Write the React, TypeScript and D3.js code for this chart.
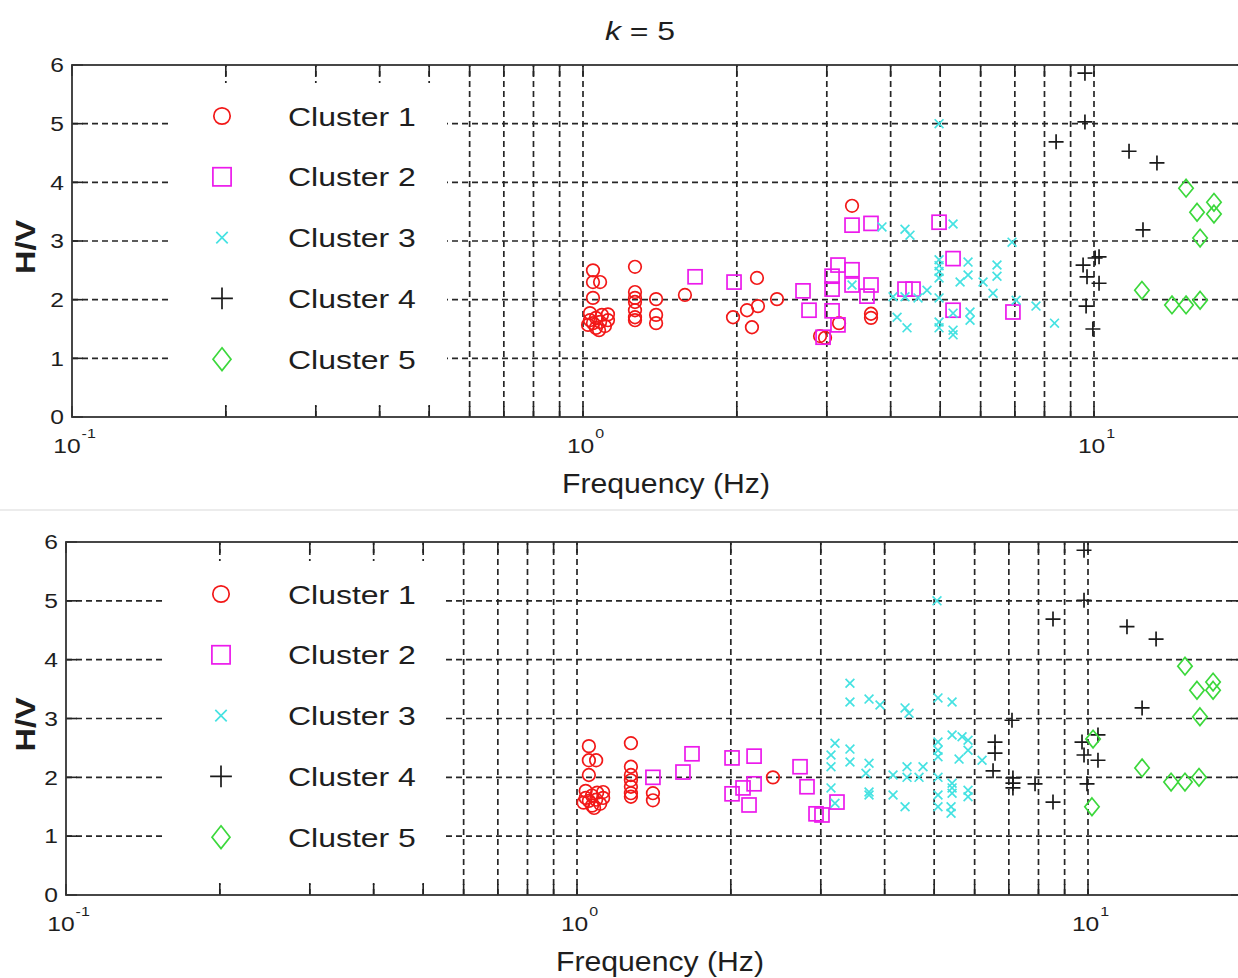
import React from 'react';
import * as d3 from 'd3';

type Pt = [number, number];

// legend + styling per cluster
const clusterNames = ['Cluster 1', 'Cluster 2', 'Cluster 3', 'Cluster 4', 'Cluster 5'];
const clusterColors = ['#f21818', '#ec1aec', '#45e2e2', '#1a1a1a', '#3cd83c'];
const clusterShapes = ['circle', 'square', 'x', 'plus', 'diamond'];

const yTicks = [0, 1, 2, 3, 4, 5, 6];
const xMajor = [0.1, 1, 10];
const xMajorExp = ['-1', '0', '1'];
const xMinor = [0.2, 0.3, 0.4, 0.5, 0.6, 0.7, 0.8, 0.9, 2, 3, 4, 5, 6, 7, 8, 9, 20];

// top panel (frequency Hz, H/V)
const topCluster1: Pt[] = [
  [1.046, 2.5], [1.046, 2.3], [1.08, 2.3], [1.046, 2.03],
  [1.032, 1.77], [1.06, 1.69], [1.089, 1.74], [1.119, 1.65], [1.023, 1.57], [1.06, 1.52],
  [1.104, 1.55], [1.046, 1.6], [1.08, 1.62], [1.119, 1.75], [1.032, 1.65], [1.075, 1.48],
  [1.264, 2.56], [1.264, 2.13], [1.264, 2.03], [1.264, 1.96], [1.264, 1.82], [1.264, 1.7], [1.264, 1.65],
  [1.39, 2.01], [1.39, 1.74], [1.39, 1.6],
  [1.583, 2.08],
  [1.966, 1.7], [2.094, 1.82], [2.141, 1.53], [2.19, 2.37], [2.2, 1.89], [2.397, 2.01],
  [2.91, 1.38], [2.976, 1.35], [3.17, 1.6], [3.361, 3.6], [3.661, 1.76], [3.661, 1.69],
];
const topCluster2: Pt[] = [
  [1.657, 2.39], [1.975, 2.3], [2.695, 2.15], [2.769, 1.82], [2.95, 1.36],
  [3.072, 2.4], [3.072, 2.18], [3.072, 1.81], [3.155, 2.59], [3.155, 1.57],
  [3.361, 3.27], [3.361, 2.51], [3.361, 2.25], [3.661, 3.3], [3.661, 2.25], [3.595, 2.06],
  [4.267, 2.18], [4.424, 2.18], [4.975, 3.32], [5.299, 2.7], [5.299, 1.82], [6.94, 1.79],
];
const topCluster3: Pt[] = [
  [3.361, 2.25], [3.847, 3.24], [4.267, 3.2], [4.364, 3.1], [5.299, 3.29], [4.975, 5.0],
  [4.043, 2.05], [4.267, 2.05], [4.525, 2.03], [4.712, 2.16], [4.117, 1.7], [4.306, 1.52],
  [4.975, 2.68], [4.975, 2.58], [4.975, 2.48], [4.975, 2.37], [4.975, 2.03], [4.975, 1.52], [4.975, 1.62],
  [5.299, 1.77], [5.299, 1.48], [5.299, 1.4],
  [5.469, 2.3], [5.669, 2.64], [5.669, 2.42], [5.72, 1.79], [5.72, 1.65],
  [6.065, 2.3], [6.344, 2.11], [6.459, 2.59], [6.459, 2.4], [6.912, 2.98], [7.04, 1.99], [7.7, 1.89], [8.37, 1.6],
];
const topCluster4: Pt[] = [
  [9.6, 5.86], [9.6, 5.03], [8.43, 4.69], [11.71, 4.53], [13.28, 4.33], [12.47, 3.19],
  [10.05, 2.71], [10.23, 2.73], [9.52, 2.59], [9.69, 2.39], [10.23, 2.28], [9.65, 1.89], [9.95, 1.5],
];
const topCluster5: Pt[] = [
  [12.41, 2.16], [14.21, 1.91], [15.14, 1.91], [16.13, 1.99], [15.14, 3.9],
  [15.91, 3.49], [17.17, 3.66], [17.17, 3.46], [16.13, 3.05],
];

// bottom panel
const bottomCluster1: Pt[] = [
  [1.055, 2.53], [1.055, 2.29], [1.09, 2.29], [1.055, 2.04],
  [1.04, 1.77], [1.07, 1.69], [1.095, 1.74], [1.125, 1.65], [1.03, 1.57], [1.07, 1.52],
  [1.11, 1.55], [1.055, 1.6], [1.09, 1.62], [1.125, 1.75], [1.04, 1.65], [1.08, 1.48],
  [1.275, 2.58], [1.275, 2.18], [1.275, 2.04], [1.275, 1.95], [1.275, 1.84], [1.275, 1.73], [1.275, 1.67],
  [1.408, 1.73], [1.408, 1.61],
  [2.418, 2.0],
];
const bottomCluster2: Pt[] = [
  [1.408, 2.0], [1.612, 2.09], [1.679, 2.4], [2.011, 2.33], [2.011, 1.72], [2.113, 1.82],
  [2.171, 1.53], [2.221, 2.36], [2.221, 1.89], [2.732, 2.18], [2.819, 1.84], [2.936, 1.38],
  [3.016, 1.36], [3.227, 1.58],
];
const bottomCluster3: Pt[] = [
  [3.141, 2.38], [3.141, 2.18], [3.141, 1.82], [3.198, 2.58], [3.198, 1.56],
  [3.421, 3.6], [3.421, 3.28], [3.421, 2.48], [3.421, 2.26],
  [3.728, 3.33], [3.728, 2.24], [3.677, 2.07], [3.728, 1.75], [3.728, 1.7],
  [3.917, 3.23], [4.385, 3.18], [4.464, 3.09],
  [4.154, 2.04], [4.154, 1.7], [4.424, 2.18], [4.424, 2.0], [4.385, 1.5], [4.755, 2.18], [4.67, 2.0],
  [5.064, 5.0], [5.087, 3.35], [5.42, 3.28],
  [5.087, 2.6], [5.087, 2.46], [5.087, 2.35], [5.087, 2.0], [5.087, 1.7], [5.087, 1.5],
  [5.42, 2.72], [5.42, 1.9], [5.42, 1.82], [5.42, 1.73], [5.395, 1.5], [5.395, 1.39],
  [5.669, 2.69], [5.824, 2.63], [5.824, 2.46], [5.593, 2.31], [5.824, 1.78], [5.824, 1.67],
  [6.204, 2.29],
];
const bottomCluster4: Pt[] = [
  [9.822, 5.86], [9.822, 5.01], [8.541, 4.69], [11.92, 4.56], [13.59, 4.35], [12.76, 3.18],
  [7.1, 2.97], [6.577, 2.6], [6.577, 2.41], [6.519, 2.11], [7.13, 1.99], [7.13, 1.9], [7.13, 1.82],
  [7.877, 1.89], [8.541, 1.58], [9.734, 2.6], [9.822, 2.38], [10.46, 2.72], [10.46, 2.29], [9.956, 1.89],
];
const bottomCluster5: Pt[] = [
  [10.23, 2.65], [10.18, 1.5], [12.76, 2.16], [14.54, 1.92], [15.48, 1.92], [16.49, 2.0],
  [15.48, 3.89], [16.34, 3.48], [17.57, 3.62], [17.57, 3.48], [16.56, 3.03],
];

const FONT = '"Liberation Sans", Arial, Helvetica, sans-serif';
const SX = 1.23; // the figure is stretched horizontally

function Txt({ x, y, size, anchor = 'start', sx = SX, rotate = 0, len, weight, children }: any) {
  const t = `translate(${x},${y}) scale(${sx},1)${rotate ? ` rotate(${rotate})` : ''}`;
  return (
    <text
      transform={t}
      fontSize={size}
      textAnchor={anchor}
      fontFamily={FONT}
      fontWeight={weight}
      fill="#1e1e1e"
      textLength={len}
      lengthAdjust={len ? 'spacingAndGlyphs' : undefined}
    >
      {children}
    </text>
  );
}

function Marker({ shape, x, y, color, big = false }: any) {
  const k = big ? 1.3 : 1;
  const common = { fill: 'none', stroke: color, strokeWidth: 1.7 };
  if (shape === 'circle') return <circle cx={x} cy={y} r={6.3 * k} {...common} />;
  if (shape === 'square') {
    const h = 7 * k;
    return <rect x={x - h} y={y - h} width={2 * h} height={2 * h} {...common} />;
  }
  if (shape === 'x') {
    const h = 4.4 * k;
    return <path d={`M${x - h},${y - h}L${x + h},${y + h}M${x - h},${y + h}L${x + h},${y - h}`} {...common} />;
  }
  if (shape === 'plus') {
    const h = 7.5 * (big ? 1.45 : 1);
    return <path d={`M${x - h},${y}L${x + h},${y}M${x},${y - h}L${x},${y + h}`} {...common} />;
  }
  const w = 7.2 * (big ? 1.25 : 1);
  const hh = 8.8 * (big ? 1.3 : 1);
  return <path d={`M${x},${y - hh}L${x + w},${y}L${x},${y + hh}L${x - w},${y}Z`} {...common} />;
}

interface PanelProps {
  left: number;
  top: number;
  bottom: number;
  clusters: Pt[][];
  legend: { boxX: number; boxW: number; boxTop: number; boxBottom: number; markerX: number; textX: number; rowY: number; rowStep: number };
  labelX: number;
  labelY: number;
}

function Panel({ left, top, bottom, clusters, legend, labelX, labelY }: PanelProps) {
  const decade = 511;
  const x = d3.scaleLog().domain([0.1, 20]).range([left, left + decade * Math.log10(200)]);
  const y = d3.scaleLinear().domain([0, 6]).range([bottom, top]);
  const [x0, x1] = x.range();
  const gridX = [...xMinor, ...xMajor].filter((v) => v > 0.1 && v < 20);
  const dash = '6,4';
  const tick = 11;
  const gridStyle = { stroke: '#262626', strokeWidth: 1.7, strokeDasharray: dash };

  return (
    <g>
      {/* grid */}
      {yTicks.filter((v) => v > 0 && v < 6).map((v) => (
        <line key={`gy${v}`} x1={x0} x2={x1} y1={y(v)} y2={y(v)} {...gridStyle} />
      ))}
      {gridX.map((v) => (
        <line key={`gx${v}`} x1={x(v)} x2={x(v)} y1={bottom} y2={top} {...gridStyle} />
      ))}

      {/* legend box hides the grid */}
      <rect x={legend.boxX} y={legend.boxTop} width={legend.boxW} height={legend.boxBottom - legend.boxTop} fill="#fff" />

      {/* ticks */}
      {[...xMinor, ...xMajor].map((v) => (
        <g key={`tx${v}`}>
          <line x1={x(v)} x2={x(v)} y1={bottom} y2={bottom - tick} stroke="#222" strokeWidth={1.6} />
          <line x1={x(v)} x2={x(v)} y1={top} y2={top + tick} stroke="#222" strokeWidth={1.6} />
        </g>
      ))}
      {yTicks.map((v) => (
        <g key={`ty${v}`}>
          <line x1={x0} x2={x0 + tick} y1={y(v)} y2={y(v)} stroke="#222" strokeWidth={1.6} />
          <line x1={x1} x2={x1 - tick} y1={y(v)} y2={y(v)} stroke="#222" strokeWidth={1.6} />
        </g>
      ))}

      {/* axes box */}
      <rect x={x0} y={top} width={x1 - x0} height={bottom - top} fill="none" stroke="#333" strokeWidth={1.8} />

      {/* data */}
      {clusters.map((pts, ci) =>
        pts.map((p, i) => (
          <Marker key={`m${ci}-${i}`} shape={clusterShapes[ci]} color={clusterColors[ci]} x={x(p[0])} y={y(p[1])} />
        ))
      )}

      {/* y tick labels */}
      {yTicks.map((v) => (
        <Txt key={`ly${v}`} x={x0 - 8} y={y(v) + 7.3} size={20} anchor="end">{v}</Txt>
      ))}

      {/* x tick labels: 10^n */}
      {xMajor.map((v, i) => {
        const mainW = 2 * 0.556 * 20 * SX;
        const supW = (xMajorExp[i].length === 2 ? 0.333 + 0.556 : 0.556) * 13 * SX;
        const start = x(v) - (mainW + supW) / 2 + 2;
        return (
          <g key={`lx${v}`}>
            <Txt x={start} y={bottom + 36} size={20}>10</Txt>
            <Txt x={start + mainW + 1} y={bottom + 21} size={13}>{xMajorExp[i]}</Txt>
          </g>
        );
      })}

      {/* axis labels */}
      <Txt x={labelX} y={labelY} size={27} sx={1} len={208} anchor="middle">Frequency (Hz)</Txt>
      <Txt x={35} y={(top + bottom) / 2 + 6} size={23} anchor="middle" rotate={-90} len={54} weight="bold">H/V</Txt>

      {/* legend entries */}
      {clusterNames.map((name, i) => {
        const ry = legend.rowY + i * legend.rowStep;
        return (
          <g key={name}>
            <Marker shape={clusterShapes[i]} color={clusterColors[i]} x={legend.markerX} y={ry} big />
            <Txt x={legend.textX} y={ry + 9.5} size={26}>{name}</Txt>
          </g>
        );
      })}
    </g>
  );
}

export default function App() {
  return (
    <svg width={1238} height={978} style={{ position: 'absolute', left: 0, top: 0, background: '#fff' }}>
      <rect width={1238} height={978} fill="#fff" />
      <Txt x={640} y={40} size={26} anchor="middle">
        <tspan fontStyle="italic">k</tspan> = 5
      </Txt>
      <line x1={0} x2={1238} y1={510} y2={510} stroke="#ececec" strokeWidth={2} />
      <Panel
        left={72}
        top={65}
        bottom={417}
        clusters={[topCluster1, topCluster2, topCluster3, topCluster4, topCluster5]}
        legend={{ boxX: 168, boxW: 279, boxTop: 83, boxBottom: 405, markerX: 222, textX: 288, rowY: 116, rowStep: 60.8 }}
        labelX={666}
        labelY={493}
      />
      <Panel
        left={66}
        top={542}
        bottom={895}
        clusters={[bottomCluster1, bottomCluster2, bottomCluster3, bottomCluster4, bottomCluster5]}
        legend={{ boxX: 165, boxW: 280, boxTop: 561, boxBottom: 883, markerX: 221, textX: 288, rowY: 594, rowStep: 60.8 }}
        labelX={660}
        labelY={971}
      />
    </svg>
  );
}
